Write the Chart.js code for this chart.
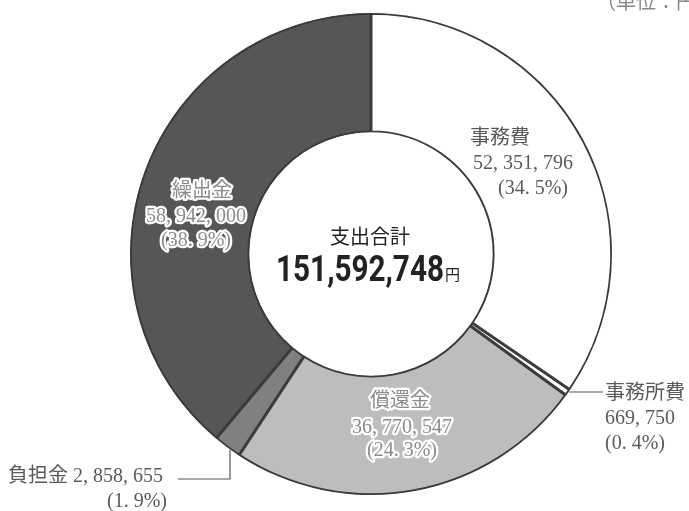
<!DOCTYPE html>
<html>
<head>
<meta charset="utf-8">
<script src="https://cdn.jsdelivr.net/npm/chart.js@4.4.0/dist/chart.umd.min.js"></script>
<style>
    body { margin: 0; background: #fff; }
    #chartBox { width: 689px; height: 511px; position: relative; }
</style>
</head>
<body>
<div id="chartBox"><canvas id="expenseChart" width="689" height="511"></canvas></div>
<script>
// Data
const categories = ['事務費', '事務所費', '償還金', '負担金', '繰出金'];
const amounts = [52351796, 669750, 36770547, 2858655, 58942000];
const percents = ['34. 5%', '0. 4%', '24. 3%', '1. 9%', '38. 9%'];
const amountLabels = ['52, 351, 796', '669, 750', '36, 770, 547', '2, 858, 655', '58, 942, 000'];
const sliceColors = ['#ffffff', '#ffffff', '#bdbdbd', '#808080', '#565656'];
const totalLabel = '151,592,748';

const serif = '"Liberation Serif", "DejaVu Serif", "Noto Sans CJK JP", serif';

// --- label drawing ---
function plainText(ctx, text, x, y, align) {
    ctx.textAlign = align || 'center';
    ctx.fillStyle = '#5a5a5a';
    ctx.fillText(text, x, y);
}

function haloText(ctx, text, x, y) {
    ctx.textAlign = 'center';
    ctx.lineJoin = 'round';
    ctx.strokeStyle = '#ffffff';
    ctx.lineWidth = 4.5;
    ctx.strokeText(text, x, y);
    ctx.fillStyle = '#8c8c8c';
    ctx.fillText(text, x, y);
}

const labelPlugin = {
    id: 'labelPlugin',
    afterDraw(chart) {
        const ctx = chart.ctx;
        ctx.save();
        ctx.textBaseline = 'middle';
        ctx.font = '20px ' + serif;

        // 事務費
        plainText(ctx, categories[0], 500, 139);
        plainText(ctx, amountLabels[0], 523, 164);
        plainText(ctx, '(' + percents[0] + ')', 533, 189);

        // 繰出金
        haloText(ctx, categories[4], 202, 192);
        haloText(ctx, amountLabels[4], 196, 217);
        haloText(ctx, '(' + percents[4] + ')', 196, 241);

        // 償還金
        haloText(ctx, categories[2], 400, 402);
        haloText(ctx, amountLabels[2], 402, 428);
        haloText(ctx, '(' + percents[2] + ')', 402, 451);

        // 事務所費 (outside, leader line)
        ctx.strokeStyle = '#555';
        ctx.lineWidth = 1.2;
        ctx.beginPath();
        ctx.moveTo(569, 392);
        ctx.lineTo(603, 392);
        ctx.stroke();
        plainText(ctx, categories[1], 605, 394, 'left');
        plainText(ctx, amountLabels[1], 605, 419, 'left');
        plainText(ctx, '(' + percents[1] + ')', 605, 444, 'left');

        // 負担金 (outside, leader line)
        ctx.beginPath();
        ctx.moveTo(178, 479);
        ctx.lineTo(230, 479);
        ctx.lineTo(230, 450);
        ctx.stroke();
        plainText(ctx, categories[3] + ' ' + amountLabels[3], 8, 477, 'left');
        plainText(ctx, '(' + percents[3] + ')', 137, 502);

        // centre total
        ctx.fillStyle = '#222';
        ctx.textAlign = 'center';
        ctx.font = '20px "Noto Sans CJK JP", sans-serif';
        ctx.fillText('支出合計', 370, 236);
        ctx.font = 'bold 36px Roboto, "Noto Sans", sans-serif';
        ctx.textAlign = 'left';
        ctx.textBaseline = 'alphabetic';
        ctx.fillText(totalLabel, 276, 281, 168);
        ctx.font = '15px "Noto Sans CJK JP", sans-serif';
        ctx.fillText('円', 445, 280);

        // unit note (cut off at the top right)
        ctx.fillStyle = '#888';
        ctx.font = '20px "Noto Sans CJK JP", sans-serif';
        ctx.fillText('（単位：円）', 596, 9);
        ctx.restore();
    }
};

new Chart(document.getElementById('expenseChart'), {
    type: 'doughnut',
    data: {
        labels: categories,
        datasets: [{
            data: amounts,
            backgroundColor: sliceColors,
            borderColor: '#3a3a3a',
            borderWidth: 1.5,
            borderAlign: 'inner'
        }]
    },
    options: {
        responsive: false,
        animation: false,
        cutout: '50.5%',
        layout: { padding: { top: 13, bottom: 16, left: 130, right: 77 } },
        plugins: {
            legend: { display: false },
            tooltip: { enabled: false }
        }
    },
    plugins: [labelPlugin]
});
</script>
</body>
</html>
